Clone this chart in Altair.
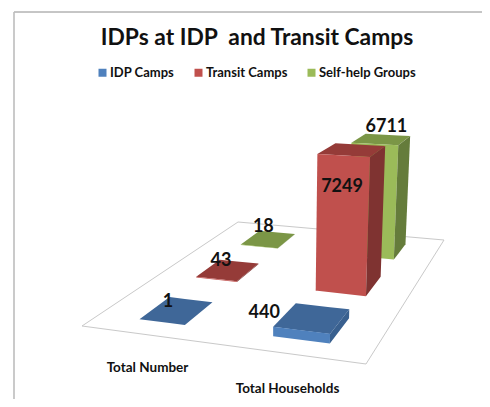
import altair as alt
import pandas as pd

# ---------- data ----------
CATEGORIES = ["Total Number", "Total Households"]
SERIES = ["IDP Camps", "Transit Camps", "Self-help Groups"]
IDP_CAMPS = [1, 440]
TRANSIT_CAMPS = [43, 7249]
SELF_HELP = [18, 6711]
VALUES = [IDP_CAMPS, TRANSIT_CAMPS, SELF_HELP]
TITLE = "IDPs at IDP\u00a0 and Transit Camps"

# ---------- style / layout ----------
FRONT = ["#4f81bd", "#c0504d", "#9bbb59"]
TOP = ["#3f6798", "#953b38", "#7b9646"]
SIDE = ["#39608f", "#7f3331", "#657c3b"]
FONT = "Lato"
INK = "#111111"
W, H = 474, 391
# floor plane corners in picture space: front-left, front-right, back-right, back-left
FLOOR = [(82, 326), (366, 364), (444, 240), (238, 222)]
HEIGHT_K = 0.0209
BAR_HALF_U, BAR_HALF_V = [0.087, 0.098], 0.083
U_CENTRES = [0.244, 0.751]
V_CENTRES = [1 / 6, 0.5, 5 / 6]
LABEL_SHIFT = {(0, 0): (-9, -8), (1, 0): (-7, -9), (2, 0): (-5, -12),
               (0, 1): (-48, -5), (1, 1): (-10, 37), (2, 1): (5, -12)}
CATEGORY_POS = [(147.5, 368), (287.5, 389)]


def homography(q):
    (x0, y0), (x1, y1), (x2, y2), (x3, y3) = q
    dx1, dx2, sx = x1 - x2, x3 - x2, x0 - x1 + x2 - x3
    dy1, dy2, sy = y1 - y2, y3 - y2, y0 - y1 + y2 - y3
    det = dx1 * dy2 - dx2 * dy1
    g = (sx * dy2 - dx2 * sy) / det
    h = (dx1 * sy - sx * dy1) / det
    a, b = x1 - x0 + g * x1, x3 - x0 + h * x3
    d, e = y1 - y0 + g * y1, y3 - y0 + h * y3
    return a, b, x0, d, e, y0, g, h


A, B, C, D, E, F, G, K = homography(FLOOR)


def project(u, v, val=0.0):
    den = G * u + K * v + 1
    x = (A * u + B * v + C) / den
    y = (D * u + E * v + F) / den
    rise = val * HEIGHT_K / den
    return x + (x - 280) * rise / 2900, y - rise


def envelope(poly):
    """Turn a convex polygon into x / upper / lower rows for an area mark."""
    rows = []
    for x in sorted({p[0] for p in poly}):
        ys = []
        for i in range(len(poly)):
            (xa, ya), (xb, yb) = poly[i], poly[(i + 1) % len(poly)]
            if min(xa, xb) <= x <= max(xa, xb):
                if xa == xb:
                    ys += [ya, yb]
                else:
                    ys.append(ya + (yb - ya) * (x - xa) / (xb - xa))
        rows.append((x, min(ys), max(ys)))
    return rows


face_rows, label_rows = [], []
n = 0
for c in range(len(CATEGORIES)):
    for s in reversed(range(len(SERIES))):
        val = VALUES[s][c]
        u0, u1 = U_CENTRES[c] - BAR_HALF_U[c], U_CENTRES[c] + BAR_HALF_U[c]
        v0, v1 = V_CENTRES[s] - BAR_HALF_V, V_CENTRES[s] + BAR_HALF_V
        faces = [
            ([project(u0, v0, val), project(u1, v0, val), project(u1, v1, val), project(u0, v1, val)], TOP[s]),
            ([project(u0, v0), project(u1, v0), project(u1, v0, val), project(u0, v0, val)], FRONT[s]),
            ([project(u1, v0), project(u1, v1), project(u1, v1, val), project(u1, v0, val)], SIDE[s]),
        ]
        for poly, col in faces:
            n += 1
            for x, y, y2 in envelope(poly):
                face_rows.append({"x": x, "y": y, "y2": y2, "face": f"f{n:03d}", "shade": col})
        tx, ty = project(U_CENTRES[c], V_CENTRES[s], val)
        dx, dy = LABEL_SHIFT[(s, c)]
        label_rows.append({"x": tx + dx, "y": ty + dy, "label": str(val)})

faces_df = pd.DataFrame(face_rows)
labels_df = pd.DataFrame(label_rows)
floor_df = pd.DataFrame([{"x": p[0], "y": p[1], "i": i} for i, p in enumerate(FLOOR + FLOOR[:1])])
cats_df = pd.DataFrame([{"x": p[0], "y": p[1], "label": t} for p, t in zip(CATEGORY_POS, CATEGORIES)])
title_df = pd.DataFrame([{"x": 257, "y": 38, "label": TITLE}])
legend_df = pd.DataFrame({"series": SERIES, "x": [20.0] * 3, "y": [20.0] * 3})

X = alt.X("x:Q", axis=None, scale=alt.Scale(domain=[8, 8 + W], range=[0, W], nice=False, zero=False))
Y = alt.Y("y:Q", axis=None, scale=alt.Scale(domain=[8, 8 + H], range=[0, H], nice=False, zero=False))

frame_top = alt.Chart(pd.DataFrame({"x": [14], "x2": [482], "y": [12]})).mark_rule(
    color="#8c8c8c", strokeWidth=1).encode(x=X, x2="x2:Q", y=Y)
frame_left = alt.Chart(pd.DataFrame({"x": [14], "y": [12], "y2": [399]})).mark_rule(
    color="#bdbdbd", strokeWidth=1.6).encode(x=X, y=Y, y2="y2:Q")
floor = alt.Chart(floor_df).mark_line(color="#c9c9c9", strokeWidth=1).encode(x=X, y=Y, order="i:Q")
bars = alt.Chart(faces_df).mark_area(interpolate="linear").encode(
    x=X, y=Y, y2="y2:Q", detail="face:N", color=alt.Color("shade:N", scale=None))
legend = alt.Chart(legend_df).mark_square(opacity=0).encode(
    x=X, y=Y,
    color=alt.Color("series:N", sort=SERIES, scale=alt.Scale(domain=SERIES, range=FRONT),
                    legend=alt.Legend(orient="none", legendX=88, legendY=58, direction="horizontal",
                                      title=None, symbolType="square", symbolSize=64, symbolOpacity=1,
                                      symbolStrokeWidth=0, labelFont=FONT, labelFontWeight="bold",
                                      labelFontSize=13, labelColor=INK, labelOffset=1, columnPadding=17)))


def text_layer(df, size):
    return alt.Chart(df).mark_text(font=FONT, fontWeight="bold", fontSize=size, color=INK,
                                   align="center", baseline="middle").encode(x=X, y=Y, text="label:N")


chart = alt.layer(frame_top, frame_left, floor, bars, legend,
                  text_layer(labels_df, 18), text_layer(cats_df, 13.5), text_layer(title_df, 22.8)
                  ).resolve_scale(color="independent").properties(
    width=W, height=H, padding=0, background="white",
    autosize=alt.AutoSizeParams(type="none")
).configure_view(stroke=None)

chart.save("out.html", embed_options={"renderer": "svg", "actions": False})
